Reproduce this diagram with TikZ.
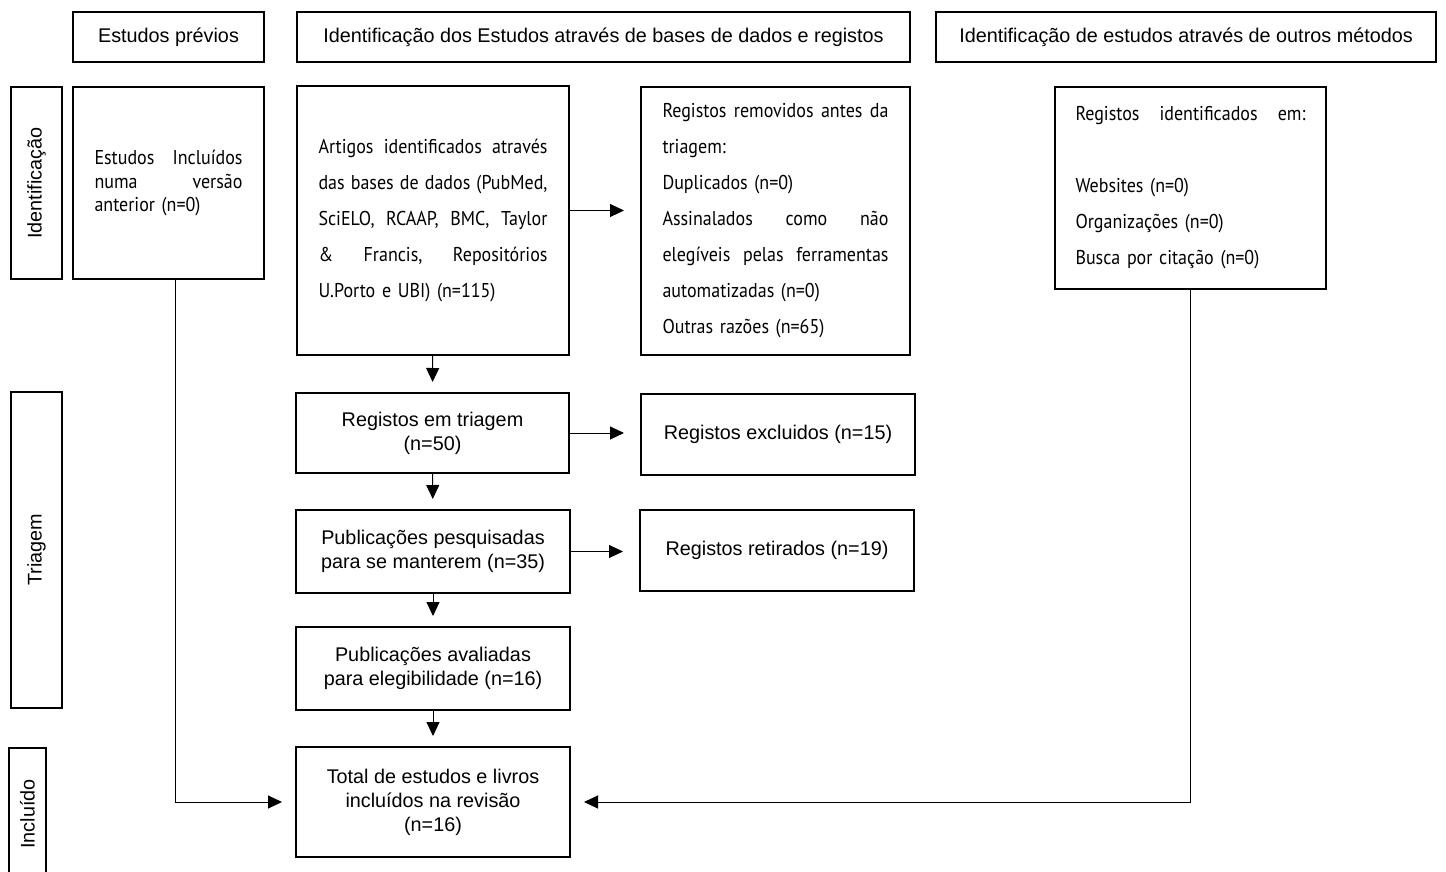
\documentclass[tikz,border=0pt]{standalone}
\usepackage{fontspec}
\setmainfont{Liberation Sans}
\newfontfamily\dinfont[FakeStretch=0.9]{PT Sans}
\usetikzlibrary{arrows.meta}
\tikzset{
    flowbox/.style = {rectangle, draw=black, line width=1pt, align=center, inner sep=0pt, font=\fontsize{9.9}{12}\selectfont},
    sidebox/.style = {rectangle, draw=black, line width=1pt, inner sep=0pt, rotate=90, font=\fontsize{9.9}{12}\selectfont},
    dinbox/.style = {rectangle, draw=black, line width=1pt, align=left, inner sep=0pt, font=\dinfont\fontsize{10}{18}\selectfont},
    edgea/.style = {-{Triangle[length=7pt,width=6.5pt]}, line width=0.5pt, black},
}

\begin{document}
\begin{tikzpicture}[x=0.5pt,y=-0.5pt]
\useasboundingbox (0,0) rectangle (1446,872);
%
\node[flowbox, minimum width=95.5pt, minimum height=25pt] at (168.5,37) (hprev) {Estudos prévios};
\node[flowbox, minimum width=306.5pt, minimum height=25pt] at (603.5,37) (hdb) {Identificação dos Estudos através de bases de dados e registos};
\node[flowbox, minimum width=250pt, minimum height=25pt] at (1186,37) (hoth) {Identificação de estudos através de outros métodos};
%
\node[sidebox, minimum width=96pt, minimum height=25.5pt] at (36.5,183) (sid) {Identificação};
\node[sidebox, minimum width=158pt, minimum height=25.5pt] at (36.5,550) (stri) {Triagem};
\node[sidebox, minimum width=66pt, minimum height=18.5pt] at (27.5,814) (sinc) {Incluído};
%
\node[dinbox, font=\dinfont\fontsize{10}{12}\selectfont, text width=74pt, minimum width=95.5pt, minimum height=96pt] at (168.5,183) (prev) {Estudos\hfill Incluídos\\ numa\hfill versão\\ anterior (n=0)};
\node[dinbox, text width=114.5pt, minimum width=136pt, minimum height=134.5pt] at (433,220.5) (art) {Artigos\hfill identificados\hfill através\\ das\hfill bases\hfill de\hfill dados\hfill (PubMed,\\ SciELO,\hfill RCAAP,\hfill BMC,\hfill Taylor\\ \&\hfill Francis,\hfill Repositórios\\ U.Porto e UBI) (n=115)};
\node[dinbox, text width=113pt, minimum width=134.5pt, minimum height=134pt] at (775.5,221) (rem) {Registos\hfill removidos\hfill antes\hfill da\\ triagem:\\ Duplicados (n=0)\\ Assinalados\hfill como\hfill não\\ elegíveis\hfill pelas\hfill ferramentas\\ automatizadas (n=0)\\ Outras razões (n=65)};
\node[dinbox, text width=115pt, minimum width=135.5pt, minimum height=101pt] at (1190.5,188) (oth) {Registos\hfill identificados\hfill em:\\ \mbox{}\\ Websites (n=0)\\ Organizações (n=0)\\ Busca por citação (n=0)};
%
\node[flowbox, minimum width=136.5pt, minimum height=40pt] at (432.5,433) (tri) {Registos em triagem\\(n=50)};
\node[flowbox, minimum width=137pt, minimum height=40.5pt] at (778,434.5) (exc) {Registos excluidos (n=15)};
\node[flowbox, minimum width=137pt, minimum height=41.5pt] at (433,551.5) (pes) {Publicações pesquisadas\\para se manterem (n=35)};
\node[flowbox, minimum width=137pt, minimum height=40.5pt] at (777,550.5) (ret) {Registos retirados (n=19)};
\node[flowbox, minimum width=137pt, minimum height=41.5pt] at (433,668.5) (ava) {Publicações avaliadas\\para elegibilidade (n=16)};
\node[flowbox, minimum width=137pt, minimum height=55pt] at (433,802) (tot) {Total de estudos e livros\\incluídos na revisão\\(n=16)};
%
\draw[edgea, shorten >=5pt] (art) -- (tri);
\draw[edgea, shorten >=5pt] (tri) -- (pes);
\draw[edgea, shorten >=5pt] (pes) -- (ava);
\draw[edgea, shorten >=5pt] (ava) -- (tot);
\draw[edgea, shorten >=8pt] ([yshift=5pt]art.east) -- ([yshift=5pt]art.east -| rem.west);
\draw[edgea, shorten >=8pt] (tri.east) -- (tri.east -| exc.west);
\draw[edgea, shorten >=8pt] (pes.east) -- (pes.east -| ret.west);
\draw[edgea, shorten >=6.5pt] ([xshift=3.5pt]prev.south) |- (tot.west);
\draw[edgea, shorten >=6.5pt] (oth.south) |- (tot.east);

\end{tikzpicture}
\end{document}
